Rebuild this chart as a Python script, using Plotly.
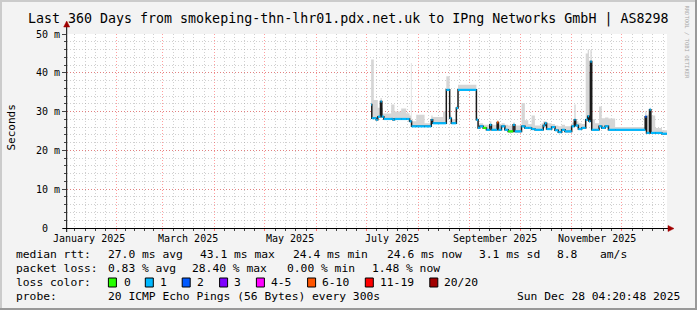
import plotly.graph_objects as go
import pandas as pd

# ---------------- data ----------------
# time of each sample, as days since 2025-01-01 00:00
day_of_year = [183.78, 184.18, 185.38, 186.78, 187.78, 189.39, 190.19, 190.79, 191.39, 195.79,
               196.80, 197.80, 201.80, 204.81, 206.81, 207.61, 208.01, 210.81, 215.82, 219.83,
               220.63, 226.84, 228.84, 230.84, 231.84, 234.85, 235.85, 246.86, 247.86, 248.87,
               250.87, 252.87, 254.87, 255.87, 259.28, 260.08, 261.88, 263.89, 265.89, 268.89,
               269.89, 273.90, 275.90, 277.91, 279.91, 281.91, 285.92, 286.92, 287.92, 288.92,
               291.92, 293.93, 295.93, 297.93, 299.93, 303.94, 305.54, 306.34, 307.95, 309.95,
               312.35, 313.55, 314.35, 315.16, 315.96, 317.96, 320.36, 321.96, 323.97, 325.97,
               329.98, 347.99, 348.80, 350.60, 351.40, 354.01, 358.01, 361.02]
# median round-trip time (ms)
median_ms = [31.8, 28.3, 28.3, 27.9, 28.7, 32.6, 28.7, 28.7, 28.1, 28.1,
             27.9, 28.1, 28.1, 28.1, 27.5, 27.5, 26.2, 26.2, 26.2, 27.9,
             27.0, 27.0, 35.6, 28.3, 27.0, 30.9, 35.6, 27.9, 25.8, 26.2,
             25.8, 25.3, 26.6, 25.3, 27.2, 25.3, 26.2, 25.3, 24.9, 26.6,
             24.9, 26.2, 25.8, 25.8, 25.5, 25.3, 25.3, 26.4, 27.0, 25.5,
             26.0, 25.2, 24.7, 25.3, 24.9, 26.2, 27.9, 26.4, 25.5, 25.8,
             27.9, 28.8, 27.5, 42.9, 25.3, 25.3, 26.2, 25.8, 26.2, 25.3,
             25.3, 28.7, 24.5, 30.5, 24.5, 24.5, 24.3, 24.3]
# top of the "smoke" (spread of the individual pings, ms)
smoke_ms = [43.4, 43.4, 33.0, 33.0, 31.0, 33.5, 31.0, 29.5, 29.5, 31.8,
            31.8, 30.0, 30.8, 29.6, 29.0, 42.5, 27.5, 29.2, 27.0, 29.0,
            28.6, 30.0, 39.1, 29.0, 28.0, 31.5, 36.9, 28.5, 27.0, 27.0,
            26.6, 26.6, 27.5, 26.6, 27.8, 26.6, 27.0, 26.6, 26.4, 27.2,
            26.4, 32.2, 27.8, 26.8, 29.0, 26.4, 27.0, 27.5, 27.5, 27.0,
            26.8, 26.4, 26.2, 26.6, 26.2, 27.2, 31.8, 27.5, 27.0, 26.8,
            45.0, 46.0, 40.0, 45.9, 28.0, 27.0, 31.3, 28.3, 28.5, 28.2,
            26.0, 30.0, 29.2, 31.0, 29.0, 25.8, 25.2, 25.2]
# packet-loss bucket of each sample
loss_bucket = ["1"] * len(day_of_year)
loss_bucket[30] = "0"
loss_bucket[38] = "0"
loss_bucket[34] = "6-10"
loss_bucket[71] = "2"

loss_labels = ["0", "1", "2", "3", "4-5", "6-10", "11-19", "20/20"]
loss_colors = ["#26ff00", "#00b8ff", "#0059ff", "#7e00ff", "#ff00ff", "#ff5500", "#ff0000", "#a10000"]

month_labels = ["January 2025", "March 2025", "May 2025", "July 2025", "September 2025", "November 2025"]
month_label_dates = ["2025-01-16", "2025-03-16", "2025-05-16", "2025-07-16", "2025-09-16", "2025-11-16"]

y_tickvals = [0, 10, 20, 30, 40, 50]
y_ticktext = ["0\u00a0\u00a0", "10 m", "20 m", "30 m", "40 m", "50 m"]

title_text = "Last 360 Days from smokeping-thn-lhr01.pdx.net.uk to IPng Networks GmbH | AS8298"
stats_rtt = ["median rtt:", "27.0 ms avg", "43.1 ms max", "24.4 ms min", "24.6 ms now", "3.1 ms sd", "8.8", "am/s"]
stats_loss = ["packet loss:", "0.83 % avg", "28.40 % max", "0.00 % min", "1.48 % now"]
probe_text = ["probe:", "20 ICMP Echo Pings (56 Bytes) every 300s"]
stamp_text = "Sun Dec 28 04:20:48 2025"

# ---------------- geometry helpers (layout only) ----------------
W, H = 697, 310
L, R, T, B = 67, 30, 34, 82
PW, PH = W - L - R, H - T - B


def px(x):
    return (x - L) / PW


def py(y):
    return (H - B - y) / PH


FONT = "DejaVu Sans Mono"

base = pd.Timestamp("2025-01-01")
t = [base + pd.Timedelta(days=d) for d in day_of_year]

fig = go.Figure()
# baseline (median) for the smoke fill
fig.add_trace(go.Scatter(x=t, y=median_ms, mode="lines", line=dict(width=0, shape="hv"),
                         hoverinfo="skip", showlegend=False))
# smoke
fig.add_trace(go.Scatter(x=t, y=smoke_ms, mode="lines", line=dict(width=0, shape="hv"),
                         fill="tonexty", fillcolor="#d6d6d6", hoverinfo="skip", showlegend=False))
# dark median path (transitions)
fig.add_trace(go.Scatter(x=t, y=median_ms, mode="lines", line=dict(width=1.5, shape="hv", color="#1a1a1a"),
                         hoverinfo="skip", showlegend=False))
# coloured median segments by loss
for lab, col in zip(loss_labels, loss_colors):
    xs, ys = [], []
    for i in range(len(t) - 1):
        if loss_bucket[i] == lab:
            xs += [t[i], t[i + 1], None]
            ys += [median_ms[i], median_ms[i], None]
    if xs:
        fig.add_trace(go.Scatter(x=xs, y=ys, mode="lines", line=dict(width=2.2, color=col),
                                 hoverinfo="skip", showlegend=False))

# grid positions on the time axis
month_starts = pd.date_range("2025-02-01", "2025-12-01", freq="MS")
minor_dates = []
for ms in pd.date_range("2025-01-01", "2025-12-01", freq="MS"):
    me = ms + pd.offsets.MonthBegin(1)
    step = (me - ms) / 5
    for k in range(1, 5):
        d = ms + step * k
        if pd.Timestamp("2025-01-02 13:30") < d < pd.Timestamp("2025-12-28 01:30"):
            minor_dates.append(d)

RED_GRID = "rgba(255,0,0,0.38)"
GRAY_GRID = "rgba(150,150,150,0.45)"

fig.update_layout(
    width=W, height=H,
    margin=dict(l=L, r=R, t=T, b=B, pad=0),
    paper_bgcolor="#f3f3f3", plot_bgcolor="#ffffff",
    showlegend=False,
    font=dict(family=FONT, size=10, color="#000000"),
    xaxis=dict(type="date", range=["2025-01-02 13:30", "2025-12-28 01:30"],
               tickvals=list(month_starts), showticklabels=False,
               showgrid=True, gridcolor=RED_GRID, griddash="1px,2px", gridwidth=1,
               ticks="outside", ticklen=2, tickcolor="#ff6666",
               zeroline=False, showline=False, fixedrange=True,
               minor=dict(tickvals=minor_dates, showgrid=True, gridcolor=GRAY_GRID,
                          griddash="1px,2px", ticks="outside", ticklen=2, tickcolor="#444444")),
    yaxis=dict(range=[0, 50], tickvals=y_tickvals, ticktext=y_ticktext,
               showgrid=True, gridcolor=RED_GRID, griddash="1px,2px", gridwidth=1,
               ticks="outside", ticklen=4, tickcolor="#444444",
               tickfont=dict(family=FONT, size=10, color="#000"),
               zeroline=False, showline=False, fixedrange=True,
               minor=dict(dtick=2, showgrid=True, gridcolor=GRAY_GRID, griddash="1px,2px",
                          ticks="outside", ticklen=2, tickcolor="#444444")),
)

ann = []


def text(x, y, s, size=11.3, xanchor="left", color="#000", angle=0, xref="paper"):
    ann.append(dict(x=x, y=y, xref=xref, yref="paper", text=s, showarrow=False,
                    xanchor=xanchor, yanchor="middle", textangle=angle,
                    borderpad=0, borderwidth=0,
                    font=dict(family=FONT, size=size, color=color)))


text(px(348), py(18.5), title_text, size=13.3, xanchor="center")
text(px(10.5), py(128), "Seconds", size=11, xanchor="center", angle=-90)
text(px(686.5), py(42), "RRDTOOL / TOBI OETIKER", size=5.5, xanchor="center", angle=90, color="#a8a8a8")

for d, s in zip(month_label_dates, month_labels):
    text(pd.Timestamp(d), py(238), s, size=10, xanchor="center", xref="x")

rtt_x = [16.4, 107.6, 199.5, 293.3, 386.7, 479, 557, 600]
for x, s in zip(rtt_x, stats_rtt):
    text(px(x), py(254.5), s)
loss_x = [16.4, 107.6, 192.4, 286.7, 372.4]
for x, s in zip(loss_x, stats_loss):
    text(px(x), py(268.5), s)
text(px(16.4), py(282.5), "loss color:")
box_x = [108.4, 145.3, 182.2, 219.6, 256.4, 307.6, 365.3, 429.8]
lab_x = [123.6, 160, 197, 234, 271, 322, 380, 444.4]
shapes = []
for bx, lx, lab, col in zip(box_x, lab_x, loss_labels, loss_colors):
    text(px(lx), py(282.5), lab)
    shapes.append(dict(type="rect", xref="paper", yref="paper",
                       x0=px(bx), x1=px(bx + 8), y0=py(287), y1=py(278),
                       fillcolor=col, line=dict(color="#000", width=1)))
text(px(16.4), py(296.5), probe_text[0])
text(px(107.6), py(296.5), probe_text[1])
text(px(680), py(296.5), stamp_text, xanchor="right")

# axes with arrows
AX = "#000000"
ARROW = "#a00000"
shapes.append(dict(type="line", xref="paper", yref="paper", x0=px(63), x1=px(668),
                   y0=py(228.5), y1=py(228.5), line=dict(color=AX, width=1)))
shapes.append(dict(type="path", xref="paper", yref="paper",
                   path=f"M {px(668)},{py(225.5)} L {px(674)},{py(228.5)} L {px(668)},{py(231.5)} Z",
                   fillcolor=ARROW, line=dict(color=ARROW, width=0.5)))
shapes.append(dict(type="line", xref="paper", yref="paper", x0=px(66.7), x1=px(66.7),
                   y0=py(232), y1=py(27), line=dict(color=AX, width=1)))
shapes.append(dict(type="path", xref="paper", yref="paper",
                   path=f"M {px(63.7)},{py(27)} L {px(66.7)},{py(21)} L {px(69.7)},{py(27)} Z",
                   fillcolor=ARROW, line=dict(color=ARROW, width=0.5)))
# 3D frame
shapes.append(dict(type="line", xref="paper", yref="paper", x0=px(0), x1=px(697), y0=py(1), y1=py(1),
                   line=dict(color="#cbcbcb", width=2)))
shapes.append(dict(type="line", xref="paper", yref="paper", x0=px(1), x1=px(1), y0=py(0), y1=py(310),
                   line=dict(color="#cbcbcb", width=2)))
shapes.append(dict(type="line", xref="paper", yref="paper", x0=px(0), x1=px(697), y0=py(309), y1=py(309),
                   line=dict(color="#999999", width=2)))
shapes.append(dict(type="line", xref="paper", yref="paper", x0=px(696), x1=px(696), y0=py(0), y1=py(310),
                   line=dict(color="#999999", width=2)))

fig.update_layout(annotations=ann, shapes=shapes)

fig.write_html("out.html", config=dict(displayModeBar=False, staticPlot=True))
